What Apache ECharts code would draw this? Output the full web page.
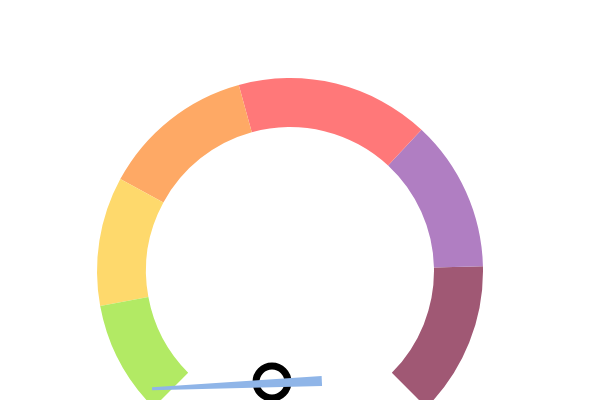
<!DOCTYPE html>
<html>
<head>
<meta charset="utf-8">
<script src="https://cdn.jsdelivr.net/npm/echarts@6/dist/echarts.min.js"></script>
<style>html,body{margin:0;padding:0;background:#fff;}#c{width:600px;height:400px;}</style>
</head>
<body>
<div id="c"></div>
<script>
var segmentStops = [0.128, 0.272, 0.443, 0.659, 0.828, 1];
var segmentColors = ['#b2ea64', '#fed96c', '#fea965', '#ff7879', '#b07ec2', '#a05874'];
var gaugeValue = [15.7];

var chart = echarts.init(document.getElementById('c'), null, {renderer: 'canvas'});
chart.setOption({
  animation: false,
  series: [{
    type: 'gauge',
    center: [290, 271],
    radius: 193,
    startAngle: 225,
    endAngle: -45,
    min: 0,
    max: 100,
    axisLine: {
      lineStyle: {
        width: 49,
        color: segmentStops.map(function (s, i) { return [s, segmentColors[i]]; })
      }
    },
    splitLine: {show: false},
    axisTick: {show: false},
    axisLabel: {show: false},
    title: {show: false},
    detail: {show: false},
    progress: {show: false},
    pointer: {
      icon: 'path://M3.5,0 L6.5,0 L10,100 L0,100 Z',
      length: 170,
      width: 10,
      offsetCenter: [-111.4, 26.8],
      itemStyle: {color: '#8fb5e8'}
    },
    anchor: {
      show: true,
      showAbove: false,
      size: 32,
      offsetCenter: [-18, 111],
      itemStyle: {color: '#fff', borderColor: '#000', borderWidth: 7}
    },
    data: gaugeValue.map(function (v) { return {value: v}; })
  }]
});
</script>
</body>
</html>
